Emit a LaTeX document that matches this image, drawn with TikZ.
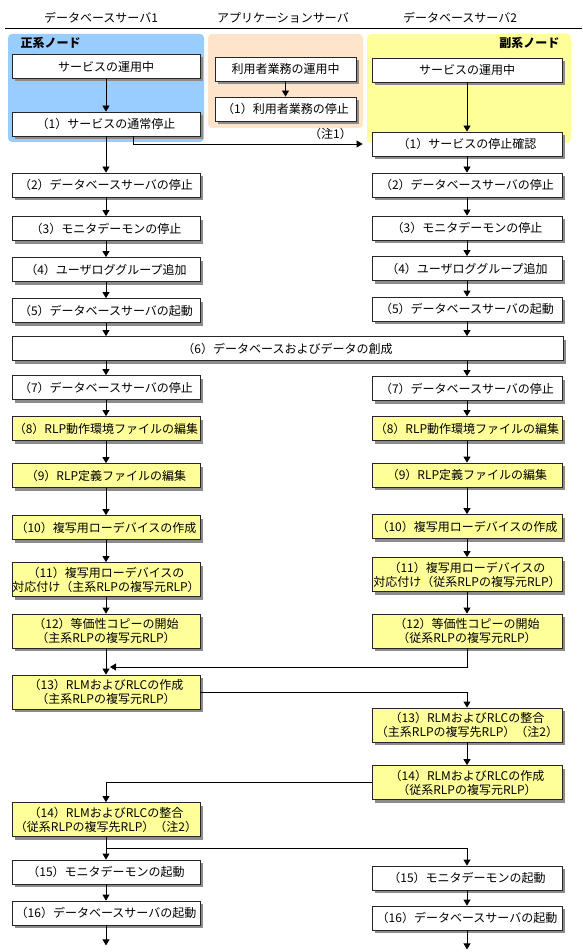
\documentclass[tikz,border=0pt]{standalone}
\usepackage{fontspec}
\setmainfont{Noto Sans CJK JP}
\usetikzlibrary{arrows.meta,shadows}
\definecolor{primblue}{HTML}{99CCFF}
\definecolor{apppeach}{HTML}{FFE4CC}
\definecolor{secyellow}{HTML}{FFFF99}
\newcommand{\stepfont}{\fontsize{12}{14}\selectfont}

\begin{document}
\begin{tikzpicture}[x=1pt, y=-1pt, >={Triangle[width=7pt,length=6pt]}, line width=0.8pt, every node/.style={font=\stepfont}]
    \tikzstyle{box}=[rectangle,draw=black!85,fill=white,align=center,inner sep=0pt,minimum height=24pt,drop shadow={shadow xshift=3pt,shadow yshift=-3pt,fill=black!45,opacity=1}]
    \tikzstyle{pbox}=[box,minimum width=188pt]
    \tikzstyle{sbox}=[box,minimum width=190pt]
    \tikzstyle{abox}=[box,minimum width=141pt]
    \tikzstyle{hl}=[fill=secyellow]
    \tikzstyle{tall}=[minimum height=34pt]
    \tikzstyle{area}=[rounded corners=4pt]
    \useasboundingbox (0,0) rectangle (582,952);

    % column titles
    \node (tprim) at (101,18) {データベースサーバ1};
    \node (tapp) at (283,18) {アプリケーションサーバ};
    \node (tsec) at (460,18) {データベースサーバ2};
    \draw (5,28) -- (582,28);

    % node areas
    \fill[primblue,area] (8,34) rectangle (204,142);
    \fill[apppeach,area] (208,34) rectangle (363,128);
    \fill[secyellow,area] (367,34) rectangle (571,143);
    \node[anchor=west,font=\stepfont\bfseries] (lprim) at (17,43) {正系ノード};
    \node[anchor=east,font=\stepfont\bfseries] (lsec) at (563,43) {副系ノード};

    % primary node
    \node[pbox] (p0) at (106,66.5) {サービスの運用中};
    \node[pbox] (p1) at (106,124) {（1）サービスの通常停止};
    \node[pbox] (p2) at (106,185) {（2）データベースサーバの停止};
    \node[pbox] (p3) at (106,228.5) {（3）モニタデーモンの停止};
    \node[pbox] (p4) at (106,269.5) {（4）ユーザロググループ追加};
    \node[pbox] (p5) at (106,310.5) {（5）データベースサーバの起動};
    \node[pbox] (p7) at (106,387.5) {（7）データベースサーバの停止};
    \node[pbox,hl] (p8) at (106,428.5) {（8）RLP動作環境ファイルの編集};
    \node[pbox,hl] (p9) at (106,475.5) {（9）RLP定義ファイルの編集};
    \node[pbox,hl] (p10) at (106,527.5) {（10）複写用ローデバイスの作成};
    \node[pbox,hl,tall] (p11) at (106,579.5) {（11）複写用ローデバイスの\\対応付け（主系RLPの複写元RLP）};
    \node[pbox,hl,tall] (p12) at (106,631) {（12）等価性コピーの開始\\（主系RLPの複写元RLP）};
    \node[pbox,hl,tall] (p13) at (106,692) {（13）RLMおよびRLCの作成\\（主系RLPの複写元RLP）};
    \node[pbox,hl,tall] (p14) at (106,819.5) {（14）RLMおよびRLCの整合\\（従系RLPの複写先RLP）（注2）};
    \node[pbox] (p15) at (106,872) {（15）モニタデーモンの起動};
    \node[pbox] (p16) at (106,913) {（16）データベースサーバの起動};

    % application server
    \node[abox] (a0) at (285.5,69) {利用者業務の運用中};
    \node[abox] (a1) at (285.5,109) {（1）利用者業務の停止};

    % secondary node
    \node[sbox] (s0) at (467,70) {サービスの運用中};
    \node[sbox] (s1) at (467,144) {（1）サービスの停止確認};
    \node[sbox] (s2) at (467,185) {（2）データベースサーバの停止};
    \node[sbox] (s3) at (467,228) {（3）モニタデーモンの停止};
    \node[sbox] (s4) at (467,268.5) {（4）ユーザロググループ追加};
    \node[sbox] (s5) at (467,309) {（5）データベースサーバの起動};
    \node[sbox] (s7) at (467,388.5) {（7）データベースサーバの停止};
    \node[sbox,hl] (s8) at (467,428.5) {（8）RLP動作環境ファイルの編集};
    \node[sbox,hl] (s9) at (467,475) {（9）RLP定義ファイルの編集};
    \node[sbox,hl] (s10) at (467,526.5) {（10）複写用ローデバイスの作成};
    \node[sbox,hl,tall] (s11) at (467,574.5) {（11）複写用ローデバイスの\\対応付け（従系RLPの複写元RLP）};
    \node[sbox,hl,tall] (s12) at (467,631) {（12）等価性コピーの開始\\（従系RLPの複写元RLP）};
    \node[sbox,hl,tall] (s13) at (467,725) {（13）RLMおよびRLCの整合\\（主系RLPの複写先RLP）（注2）};
    \node[sbox,hl,tall] (s14) at (467,782.5) {（14）RLMおよびRLCの作成\\（従系RLPの複写元RLP）};
    \node[sbox] (s15) at (467,878) {（15）モニタデーモンの起動};
    \node[sbox] (s16) at (467,918) {（16）データベースサーバの起動};

    % shared step
    \node[box,minimum width=551pt] (db6) at (287.5,348.5) {（6）データベースおよびデータの創成};
    \coordinate (j13) at (110,667);

    \draw[->] (p0) -- (p1);
    \draw[->] (a0) -- (a1);
    \draw[->] (s0) -- (s1);
    \draw[->] ([xshift=27pt]p1.south) |- ([xshift=-9pt]s1.west) node[pos=0.93,above=1pt] {（注1）};
    \draw[->] (p1) -- (p2);
    \draw[->] (p2) -- (p3);
    \draw[->] (p3) -- (p4);
    \draw[->] (p4) -- (p5);
    \draw[->] (p5) -- (p5 |- db6.north);
    \draw[->] (s1) -- (s2);
    \draw[->] (s2) -- (s3);
    \draw[->] (s3) -- (s4);
    \draw[->] (s4) -- (s5);
    \draw[->] (s5) -- (s5 |- db6.north);
    \draw[->] (p7 |- db6.south) -- (p7);
    \draw[->] (s7 |- db6.south) -- (s7);
    \draw[->] (p7) -- (p8);
    \draw[->] (p8) -- (p9);
    \draw[->] (p9) -- (p10);
    \draw[->] (p10) -- (p11);
    \draw[->] (p11) -- (p12);
    \draw[->] (p12) -- (p13);
    \draw[->] (s7) -- (s8);
    \draw[->] (s8) -- (s9);
    \draw[->] (s9) -- (s10);
    \draw[->] (s10) -- (s11);
    \draw[->] (s11) -- (s12);
    \draw[->] (s12) |- (j13);
    \draw[->] (p13) -| (s13);
    \draw[->] (s13) -- (s14);
    \draw[->] (s14) -| (p14);
    \draw[->] (p14) -- (p15);
    \draw[->] (p14.south) -- ++(0,11) -| (s15);
    \draw[->] (p15) -- (p16);
    \draw[->] (s15) -- (s16);
    \draw[->] (p16.south) -- ++(0,20);
    \draw[->] (s16.south) -- ++(0,19);
\end{tikzpicture}
\end{document}
